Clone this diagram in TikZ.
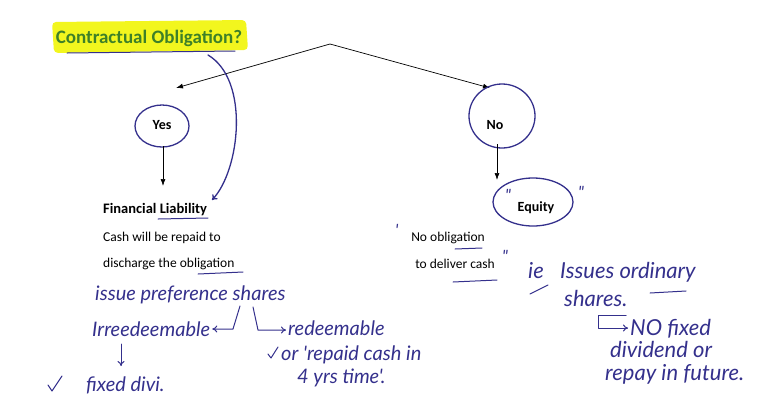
\documentclass[tikz,border=0pt]{standalone}
\usepackage{fontspec}
\setmainfont{Carlito}
\newfontfamily\handfont{Lato}
\usetikzlibrary{arrows.meta}
\definecolor{pen}{RGB}{52,48,140}
\definecolor{titlegreen}{RGB}{62,128,40}
\definecolor{hl}{RGB}{242,246,30}
\tikzset{
  printed/.style={font=\fontsize{13.5}{15}\selectfont, inner sep=0pt, anchor=base west},
  boldtext/.style={font=\fontsize{14}{16}\selectfont\bfseries, inner sep=0pt},
  hand/.style={font=\handfont\itshape\fontsize{20}{22}\selectfont, text=pen, inner sep=0pt, anchor=base west},
  bighand/.style={hand, font=\handfont\itshape\fontsize{22}{24}\selectfont},
  quote/.style={font=\handfont\itshape\fontsize{17}{18}\selectfont, text=pen, inner sep=0pt, anchor=base west},
  ink/.style={draw=pen, line width=1.3pt, line cap=round, line join=round},
  ring/.style={ink},
  flow/.style={draw=black, line width=0.7pt, -{Latex[length=7pt,width=5pt]}},
  pentip/.style={-{To[length=5pt,width=7pt]}},
}
\begin{document}
\begin{tikzpicture}[x=1pt,y=-1pt]
\useasboundingbox (0,0) rectangle (768,400);
% title
\fill[hl, rounded corners=4pt] (52,22) -- (246,20) -- (248,50) -- (54,53) -- cycle;
\node[font=\fontsize{19}{21}\selectfont\bfseries, text=titlegreen, inner sep=0pt] (title) at (149,38) {Contractual Obligation?};
\draw[ink, line width=1pt] (67,53) -- (235,51);
\coordinate (root) at (330,44);
\coordinate (ltip) at (176,88);
\coordinate (rtip) at (490,88);
\draw[flow] (root) -- (ltip);
\draw[flow] (root) -- (rtip);
% Yes branch
\node[boldtext] (yes) at (162,125) {Yes};
\draw[ring] (162,126) ellipse [x radius=27, y radius=21];
\node[boldtext, anchor=base west, font=\fontsize{14.5}{16}\selectfont\bfseries] (finl) at (103,213) {Financial Liability};
\draw[flow] (163,146) -- (163,186);
\node[printed] (cash1) at (103,241) {Cash will be repaid to};
\node[printed] (cash2) at (103,267) {discharge the obligation};
\draw[ink, line width=1pt] (158,219) -- (208,218);
\draw[ink, line width=1pt] (198,274) -- (243,272);
% curved pen arrow from title to Liability
\coordinate (cstart) at (208,55);
\coordinate (cend) at (212,200);
\draw[ink, pentip] (cstart) .. controls (250,80) and (240,170) .. (cend);
% No branch
\node[boldtext] (no) at (495,125) {No};
\draw[ring] (502,116) ellipse [x radius=33, y radius=32];
\draw[flow] (497,144) -- (497,180);
\node[boldtext] (eq) at (536,208) {Equity};
\draw[ring] (533,202) ellipse [x radius=40, y radius=24];
\node[quote] (q1) at (505,201) {"};
\node[quote] (q2) at (578,198) {"};
\node[printed, anchor=base] (noob) at (448,241) {No obligation};
\node[printed, anchor=base] (deliv) at (455,268) {to deliver cash};
\node[quote] (q3) at (395,236) {'};
\node[quote] (q4) at (502,262) {"};
\draw[ink, line width=1pt] (455,249) -- (482,248);
\draw[ink, line width=1pt] (453,282) -- (497,280);
% right handwriting
\node[bighand] (ie) at (528,278) {ie};
\node[bighand] (issues) at (560,278) {Issues ordinary};
\node[bighand] (shares) at (564,306) {shares.};
\draw[ink, line width=1pt] (530,294) -- (548,285);
\draw[ink, line width=1pt] (650,293) -- (686,291);
\coordinate (hk1) at (598,315);
\coordinate (hk2) at (626,315);
\coordinate (hk3) at (598,328);
\node[bighand] (nofix) at (630,335) {NO fixed};
\draw[ink, line width=1pt, pentip] (hk2) -- (hk1) -- (hk3) -- ([xshift=-2pt]nofix.west|-hk3);
\node[bighand] (divid) at (610,357) {dividend or};
\node[bighand] (repay) at (605,380) {repay in future.};
% left handwriting
\node[hand] (pref) at (95,300) {issue preference shares};
\node[hand] (irr) at (92,336) {Irreedeemable};
\node[hand] (redm) at (288,335) {redeemable};
\coordinate (la) at (240,306);
\coordinate (lb) at (233,329);
\draw[ink, line width=1pt, pentip] (la) -- (lb) -- ([xshift=2pt]irr.east|-lb);
\coordinate (ra) at (253,307);
\coordinate (rb) at (258,330);
\draw[ink, line width=1pt, pentip] (ra) -- (rb) -- ([xshift=-2pt]redm.west|-rb);
\draw[ink, line width=1pt] (268,354) -- (271,358) -- (278,347);
\node[hand] (rep) at (281,360) {or 'repaid cash in};
\node[hand] (yrs) at (297,383) {4 yrs time'.};
\coordinate (da) at (121,344);
\coordinate (db) at (121,366);
\draw[ink, line width=1pt, pentip] (da) -- (db);
\draw[ink, line width=1pt] (48,385) -- (52,391) -- (62,376);
\node[hand] (fixd) at (86,391) {fixed divi.};
\end{tikzpicture}
\end{document}
